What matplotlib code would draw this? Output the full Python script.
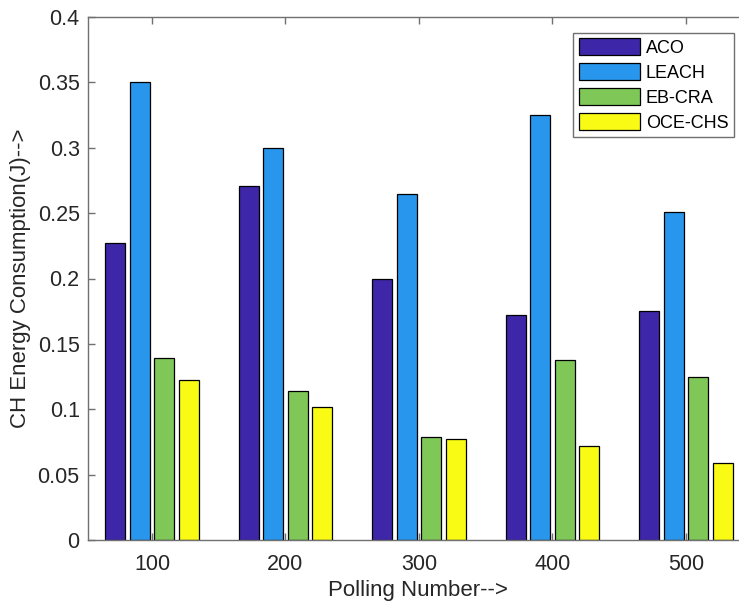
import numpy as np
import matplotlib
matplotlib.use('Agg')
import matplotlib.pyplot as plt

plt.rcParams['font.family'] = ['Liberation Sans', 'DejaVu Sans']

polling = ['100', '200', '300', '400', '500']
methods = ['ACO', 'LEACH', 'EB-CRA', 'OCE-CHS']
aco = [0.227, 0.271, 0.200, 0.172, 0.175]
leach = [0.350, 0.300, 0.265, 0.325, 0.251]
ebcra = [0.139, 0.114, 0.079, 0.138, 0.125]
ocechs = [0.122, 0.102, 0.077, 0.072, 0.059]
yticks = [0, 0.05, 0.1, 0.15, 0.2, 0.25, 0.3, 0.35, 0.4]
ytick_labels = ['0', '0.05', '0.1', '0.15', '0.2', '0.25', '0.3', '0.35', '0.4']

colors = ['#3E26A8', '#2796EC', '#7FC857', '#F9FB15']

W, H = 739, 603
fig = plt.figure(figsize=(W / 100, H / 100), dpi=100)
ax = fig.add_axes([88 / W, 63 / H, (745 - 88) / W, 523 / H])

x = np.arange(1, len(polling) + 1)
series = [aco, leach, ebcra, ocechs]
offsets = [-0.274, -0.091, 0.091, 0.274]
for vals, off, col, name in zip(series, offsets, colors, methods):
    ax.bar(x + off, vals, width=0.15, color=col, edgecolor='black', linewidth=0.9, label=name, zorder=2)

ax.set_xlim(0.521, 5.442)
ax.set_ylim(0, 0.4)
ax.set_xticks(x)
ax.set_xticklabels(polling)
ax.set_yticks(yticks)
ax.set_yticklabels(ytick_labels)

for s in ax.spines.values():
    s.set_color('#707070')
    s.set_linewidth(1.0)
ax.tick_params(direction='in', top=True, right=False, length=5, width=1.0,
               color='#707070', labelsize=15.5, labelcolor='#262626', pad=10)
ax.tick_params(axis='y', pad=6)

ax.set_xlabel('Polling Number-->', fontsize=16, color='#262626')
ax.set_ylabel('CH Energy Consumption(J)-->', fontsize=16, color='#262626')
ax.xaxis.set_label_coords((418 - 88) / (745 - 88), -0.077)
ax.yaxis.set_label_coords(-0.086, 0.5)

leg = ax.legend(loc='upper right', bbox_to_anchor=(734 / W, 1 - 33 / H), bbox_transform=fig.transFigure,
                borderaxespad=0, fontsize=13, handlelength=3.4, handleheight=1.05,
                fancybox=False, framealpha=1, edgecolor='#707070', borderpad=0.3,
                labelspacing=0.35, handletextpad=0.33)
leg.get_frame().set_linewidth(1.0)

fig.savefig('out.png', dpi=100)
